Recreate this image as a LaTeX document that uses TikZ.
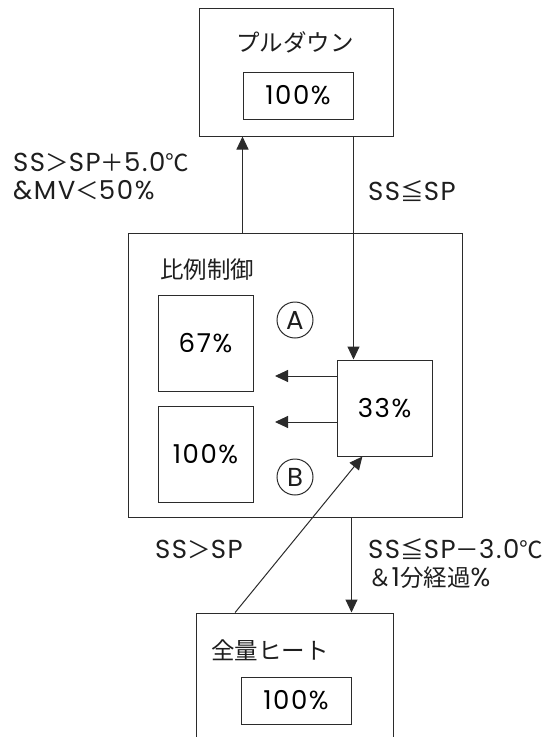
\documentclass[tikz,border=0pt]{standalone}
\usepackage{fontspec}
\setmainfont{Poppins}[LetterSpace=6]
\newfontfamily\jp{Noto Sans CJK JP}
\newcommand\js[1]{{\fontsize{23.5pt}{25pt}\jp #1}}
\usepackage{tikz}
\usetikzlibrary{arrows.meta, positioning, calc}
\definecolor{modeline}{HTML}{2B2B2B}
\definecolor{modetext}{HTML}{1E1E1E}

\tikzset{
  modebox/.style={draw=modeline, line width=1pt, inner sep=0pt},
  valbox/.style={modebox, minimum width=95pt, minimum height=96pt},
  pctbox/.style={modebox, minimum width=110pt, minimum height=47pt},
  modelbl/.style={text=modetext, inner sep=0pt, font={\fontsize{23.5pt}{25pt}\jp}},
  conlbl/.style={text=modetext, inner sep=0pt, anchor=base west},
  circmark/.style={draw=modeline, line width=1pt, circle, minimum size=36pt,
    inner sep=0pt, text=modetext},
  trans/.style={draw=modeline, line width=1pt,
    -{Triangle[length=13pt, width=12pt]}}
}

\begin{document}
\begin{tikzpicture}[x=1pt, y=-1pt,
    font=\fontsize{26pt}{28pt}\selectfont]
  \clip (0,0) rectangle (556,737);
  % pull-down mode
  \node[modebox, minimum width=194pt, minimum height=128pt] (pull) at (296,72) {};
  \node[modelbl] (pulltxt) at (295,42) {プルダウン};
  \node[pctbox] (pullval) at (298,95.5) {100\%};
  % proportional control
  \node[modebox, minimum width=334pt, minimum height=284pt] (prop) at (295,375) {};
  \node[modelbl, anchor=west] (proptxt) at (160,270) {比例制御};
  \node[valbox] (p67) at (205.5,343) {67\%};
  \node[valbox] (p100) at (205.5,454) {100\%};
  \node[valbox] (p33) at (384.5,408) {33\%};
  \node[circmark] (markA) at (295,320) {A};
  \node[circmark] (markB) at (295,477) {B};
  % full heat
  \node[modebox, minimum width=197pt, minimum height=160pt] (heat) at (294.5,693) {};
  \node[modelbl, anchor=west] (heattxt) at (211,650) {全量ヒート};
  \node[pctbox] (heatval) at (296,700.5) {100\%};

  \coordinate (tipA) at (275,376);
  \coordinate (tipB) at (275,422);

  % transitions
  \draw[trans] (pullval.west |- prop.north) -- (pullval.west |- pull.south);
  \draw[trans] (pullval.east |- pull.south) -- (pullval.east |- p33.north);
  \draw[trans] (p33.west |- tipA) -- (tipA);
  \draw[trans] (p33.west |- tipB) -- (tipB);
  \draw[trans] ($(heat.north west)!0.2!(heat.north east)$)
    -- ($(p33.south west)!0.27!(p33.south east)$);
  \draw[trans] (heatval.east |- prop.south) -- (heatval.east |- heat.north);

  % conditions
  \node[conlbl] (cond1a) at (13,171) {SS\js{＞}SP\js{＋}5.0\js{℃}};
  \node[conlbl] (cond1b) at (13,199) {\&MV\js{＜}50\%};
  \node[conlbl] (cond2) at (368,200) {SS\js{≦}SP};
  \node[conlbl] (cond3) at (155,558) {SS\js{＞}SP};
  \node[conlbl] (cond4a) at (368,558) {SS\js{≦}SP\js{－}3.0\js{℃}};
  \node[conlbl] (cond4b) at (368,586) {\js{＆}1\js{分経過}\%};
\end{tikzpicture}
\end{document}
